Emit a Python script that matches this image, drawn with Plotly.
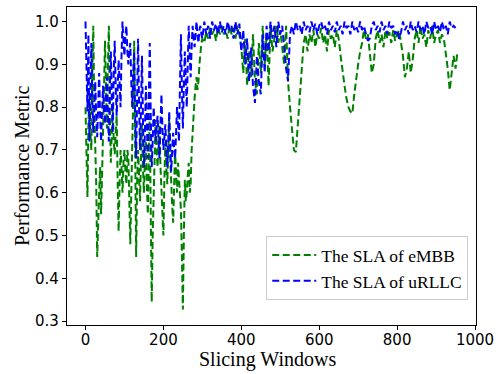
import plotly.graph_objects as go

# Slicing-window index: every 2.5 windows during the unstable start-up phase,
# every 5 windows once the slices settle.
early_windows = [i * 2.5 for i in range(120)]          # 0 .. 297.5
embb_windows = early_windows + list(range(300, 956, 5))
urllc_windows = early_windows + list(range(300, 951, 5))

embb_sla = [
    # 0 - 297.5
    0.80, 0.66, 0.59, 0.76, 0.83, 0.74, 0.70, 0.88, 0.99, 0.80,
    0.73, 0.62, 0.45, 0.56, 0.60, 0.66, 0.55, 0.64, 0.72, 0.84,
    0.955, 0.80, 0.75, 0.90, 0.99, 0.78, 0.67, 0.74, 0.80, 0.72,
    0.69, 0.74, 0.78, 0.63, 0.51, 0.62, 0.70, 0.66, 0.60, 0.67,
    0.70, 0.65, 0.62, 0.70, 0.68, 0.58, 0.48, 0.60, 0.68, 0.82,
    0.955, 0.70, 0.45, 0.62, 0.70, 0.64, 0.58, 0.68, 0.76, 0.66,
    0.60, 0.68, 0.72, 0.62, 0.55, 0.68, 0.78, 0.55, 0.345, 0.50,
    0.62, 0.70, 0.77, 0.70, 0.66, 0.72, 0.76, 0.66, 0.60, 0.55,
    0.50, 0.63, 0.72, 0.66, 0.62, 0.70, 0.77, 0.68, 0.60, 0.57,
    0.53, 0.64, 0.70, 0.64, 0.60, 0.67, 0.64, 0.60, 0.56, 0.45,
    0.327, 0.50, 0.63, 0.58, 0.60, 0.64, 0.67, 0.60, 0.62, 0.70,
    0.75, 0.79, 0.82, 0.85, 0.87, 0.84, 0.86, 0.90, 0.93, 0.95,
    # 300
    0.96, 0.95, 0.975, 0.96, 0.985, 0.97, 0.98, 0.955, 0.985, 0.97,
    0.99, 0.97, 0.98, 0.96, 0.99, 0.97, 0.985, 0.96, 0.99, 0.97,
    # 400
    0.94, 0.88, 0.96, 0.85, 0.93, 0.87, 0.97, 0.86, 0.83, 0.95,
    0.88, 0.99, 0.90, 0.97, 0.85, 0.99, 0.93, 0.96, 0.99, 0.95,
    # 500
    0.98, 0.94, 0.90, 0.99, 0.86, 0.80, 0.74, 0.70, 0.695, 0.76,
    0.82, 0.90, 0.95, 0.97, 0.93, 0.97, 0.95, 0.98, 0.94, 0.97,
    # 600
    0.96, 0.985, 0.95, 0.97, 0.93, 0.98, 0.96, 0.97, 0.94, 0.98,
    0.96, 0.92, 0.88, 0.85, 0.82, 0.80, 0.79, 0.785, 0.83, 0.87,
    # 700
    0.90, 0.93, 0.95, 0.98, 0.96, 0.97, 0.92, 0.88, 0.90, 0.96,
    0.98, 0.95, 0.97, 0.94, 0.98, 0.96, 0.975, 0.95, 0.98, 0.955,
    # 800
    0.97, 0.98, 0.95, 0.92, 0.87, 0.89, 0.93, 0.88, 0.91, 0.96,
    0.98, 0.95, 0.99, 0.96, 0.97, 0.94, 0.98, 0.96, 0.99, 0.95,
    # 900
    0.97, 0.98, 0.95, 0.97, 0.96, 0.93, 0.89, 0.84, 0.88, 0.92,
    0.89, 0.93,
]

urllc_sla = [
    # 0 - 297.5
    1.0, 0.90, 0.79, 0.97, 0.72, 0.84, 0.95, 0.82, 0.74, 0.80,
    0.86, 0.78, 0.73, 0.80, 0.88, 0.78, 0.72, 0.79, 0.85, 0.80,
    0.76, 0.82, 0.87, 0.78, 0.72, 0.84, 0.93, 0.82, 0.74, 0.88,
    0.955, 0.85, 0.78, 0.84, 0.91, 0.86, 0.80, 0.92, 1.0, 0.95,
    0.92, 0.97, 0.99, 0.93, 0.90, 0.93, 0.95, 0.86, 0.80, 0.88,
    0.93, 0.78, 0.68, 0.82, 0.96, 0.80, 0.70, 0.80, 0.92, 0.77,
    0.66, 0.74, 0.85, 0.76, 0.68, 0.82, 0.95, 0.78, 0.66, 0.72,
    0.80, 0.76, 0.72, 0.75, 0.78, 0.72, 0.68, 0.76, 0.83, 0.75,
    0.70, 0.73, 0.76, 0.70, 0.66, 0.72, 0.79, 0.71, 0.65, 0.70,
    0.74, 0.70, 0.68, 0.74, 0.80, 0.76, 0.72, 0.85, 0.97, 0.84,
    0.75, 0.85, 0.93, 0.86, 0.80, 0.90, 0.99, 0.92, 0.87, 0.94,
    0.99, 0.96, 0.94, 0.97, 1.0, 0.97, 0.95, 0.98, 0.99, 0.97,
    # 300
    0.96, 1.0, 0.97, 0.99, 0.96, 1.0, 0.98, 0.995, 0.97, 1.0,
    0.975, 0.99, 0.97, 1.0, 0.98, 0.99, 0.96, 1.0, 0.97, 0.995,
    # 400
    0.93, 0.98, 0.90, 0.96, 0.86, 0.94, 0.85, 0.81, 0.92, 0.86,
    0.83, 0.97, 0.88, 0.99, 0.93, 1.0, 0.96, 0.99, 0.94, 1.0,
    # 500
    0.97, 0.99, 0.93, 0.89, 0.86, 0.97, 0.99, 0.97, 1.0, 0.98,
    0.99, 0.97, 1.0, 0.98, 0.99, 0.975, 1.0, 0.98, 0.995, 0.97,
    # 600
    0.99, 1.0, 0.98, 0.99, 0.97, 1.0, 0.98, 0.99, 0.975, 1.0,
    0.98, 0.99, 0.97, 1.0, 0.985, 0.99, 0.97, 1.0, 0.98, 0.99,
    # 700
    0.975, 1.0, 0.98, 0.99, 0.97, 0.955, 0.96, 0.99, 1.0, 0.98,
    0.99, 0.975, 1.0, 0.98, 0.99, 0.97, 1.0, 0.985, 0.99, 0.97,
    # 800
    0.98, 0.96, 0.975, 1.0, 0.98, 0.99, 0.97, 1.0, 0.98, 0.99,
    0.975, 1.0, 0.98, 0.99, 0.97, 1.0, 0.985, 0.99, 0.97, 1.0,
    # 900
    0.98, 0.99, 0.975, 1.0, 0.98, 0.99, 0.97, 1.0, 0.985, 0.99,
    0.985,
]

x_ticks = [0, 200, 400, 600, 800, 1000]
y_ticks = [0.3, 0.4, 0.5, 0.6, 0.7, 0.8, 0.9, 1.0]

dash = "7px,3.5px"
fig = go.Figure()
fig.add_trace(go.Scatter(
    x=embb_windows, y=embb_sla, mode="lines", name="The SLA of eMBB",
    line=dict(color="#008000", width=2, dash=dash),
))
fig.add_trace(go.Scatter(
    x=urllc_windows, y=urllc_sla, mode="lines", name="The SLA of uRLLC",
    line=dict(color="#0000ff", width=2, dash=dash),
))

tick_font = dict(family="DejaVu Sans", size=15, color="black")
title_font = dict(family="Liberation Serif", size=20, color="black")
axis_common = dict(
    showline=True, mirror=True, linecolor="black", linewidth=1.2,
    ticks="outside", ticklen=4, tickwidth=1, tickcolor="black",
    showgrid=False, zeroline=False, tickfont=tick_font,
)

fig.update_layout(
    width=500, height=374,
    margin=dict(l=67, r=19, t=6, b=49),
    paper_bgcolor="white", plot_bgcolor="white",
    xaxis=dict(range=[-47.5, 1002.5], tickvals=x_ticks, ticklabelstandoff=-3,
               **axis_common),
    yaxis=dict(range=[0.291, 1.034], tickvals=y_ticks, tickformat=".1f",
               **axis_common),
    legend=dict(
        x=0.981, xanchor="right", y=0.078, yanchor="bottom",
        bordercolor="#cccccc", borderwidth=1, bgcolor="rgba(255,255,255,0.85)",
        font=dict(family="Liberation Serif", size=17.5, color="black"),
        itemwidth=44,
    ),
    annotations=[
        dict(text="Slicing Windows", font=title_font, showarrow=False,
             xref="paper", yref="paper", x=0.49, y=0,
             xanchor="center", yanchor="middle", yshift=-34),
        dict(text="Performance Metric", font=title_font, showarrow=False,
             textangle=-90, xref="paper", yref="paper", x=0, y=0.5,
             xanchor="center", yanchor="middle", xshift=-45),
    ],
)

fig.write_html("out.html")
